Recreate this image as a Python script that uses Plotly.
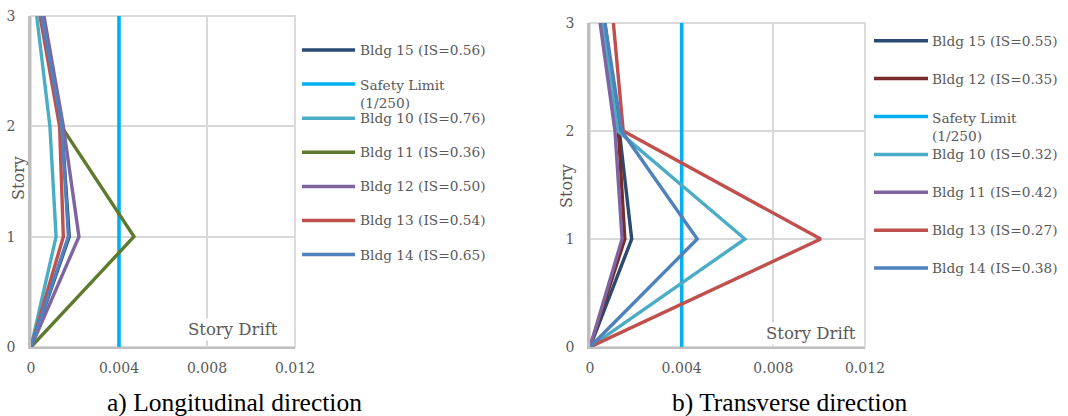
import plotly.graph_objects as go

W, H = 1068, 416

stories = [0, 1, 2, 3]
x_ticks = [0, 0.004, 0.008, 0.012]
x_tick_text = ["0", "0.004", "0.008", "0.012"]
y_ticks = [0, 1, 2, 3]
safety_limit = 0.004  # 1/250

# a) Longitudinal direction
long_names = ["Bldg 15 (IS=0.56)", "Safety Limit<br>(1/250)", "Bldg 10 (IS=0.76)",
              "Bldg 11 (IS=0.36)", "Bldg 12 (IS=0.50)", "Bldg 13 (IS=0.54)", "Bldg 14 (IS=0.65)"]
long_colors = ["#2B4A72", "#00B0F0", "#4BACC6", "#5E7A2C", "#8064A2", "#C0504D", "#4F81BD"]
long_b15 = [0, 0.00174, 0.00140, 0.00048]
long_b10 = [0, 0.00114, 0.00086, 0.00026]
long_b11 = [0, 0.00468, 0.00138, 0.00050]
long_b12 = [0, 0.00218, 0.00147, 0.00059]
long_b13 = [0, 0.00147, 0.00130, 0.00041]
long_b14 = [0, 0.00170, 0.00140, 0.00049]

# b) Transverse direction
trans_names = ["Bldg 15 (IS=0.55)", "Bldg 12 (IS=0.35)", "Safety Limit<br>(1/250)", "Bldg 10 (IS=0.32)",
               "Bldg 11 (IS=0.42)", "Bldg 13 (IS=0.27)", "Bldg 14 (IS=0.38)"]
trans_colors = ["#2B4A72", "#772C2A", "#00B0F0", "#4BACC6", "#8064A2", "#C0504D", "#4F81BD"]
trans_b15 = [0, 0.00182, 0.00128, 0.00065]
trans_b12 = [0, 0.00152, 0.00124, 0.00050]
trans_b10 = [0, 0.00676, 0.00122, 0.00056]
trans_b11 = [0, 0.00140, 0.00109, 0.00044]
trans_b13 = [0, 0.01007, 0.00145, 0.00102]
trans_b14 = [0, 0.00468, 0.00138, 0.00065]

long_series = [long_b15, None, long_b10, long_b11, long_b12, long_b13, long_b14]
trans_series = [trans_b15, trans_b12, None, trans_b10, trans_b11, trans_b13, trans_b14]

SERIF = "'DejaVu Serif', serif"
CAPTION = "'Liberation Serif', 'Times New Roman', serif"
GRAY = "#595959"

def px(x):
    return x / W

def py(y):
    return 1 - y / H

fig = go.Figure()

def add_panel(series, names, colors, xa, ya):
    for s, n, c in zip(series, names, colors):
        if s is None:
            fig.add_trace(go.Scatter(x=[safety_limit, safety_limit], y=[stories[0], stories[-1]],
                                     mode="lines", line=dict(color=c, width=3.6),
                                     name=n, showlegend=False, xaxis=xa, yaxis=ya))
        else:
            fig.add_trace(go.Scatter(x=s, y=stories, mode="lines",
                                     line=dict(color=c, width=3.4),
                                     name=n, showlegend=False, xaxis=xa, yaxis=ya))

add_panel(long_series, long_names, long_colors, "x", "y")
add_panel(trans_series, trans_names, trans_colors, "x2", "y2")

# plot areas (pixels)
L = dict(x0=31, x1=295, y0=16, y1=347)
R = dict(x0=590, x1=865, y0=23, y1=347)

def xaxis(dom, anchor):
    return dict(domain=[px(dom["x0"]), px(dom["x1"])], anchor=anchor, automargin=False,
                range=[0, 0.012], tickvals=x_ticks, ticktext=x_tick_text,
                showgrid=True, gridcolor="#D9D9D9", gridwidth=1.8,
                showline=True, linecolor="#BFBFBF", linewidth=2,
                zeroline=False, ticks="", ticklabelstandoff=7,
                tickfont=dict(family=SERIF, size=14, color=GRAY), fixedrange=True)

def yaxis(dom, anchor):
    return dict(domain=[py(dom["y1"]), py(dom["y0"])], anchor=anchor, automargin=False,
                range=[0, 3], tickvals=y_ticks,
                showgrid=True, gridcolor="#D9D9D9", gridwidth=1.8,
                showline=True, linecolor="#BFBFBF", linewidth=2.5,
                zeroline=False, ticks="", ticklabelstandoff=10,
                tickfont=dict(family=SERIF, size=14, color=GRAY), fixedrange=True)

fig.update_layout(
    width=W, height=H, margin=dict(l=0, r=0, t=0, b=0),
    paper_bgcolor="white", plot_bgcolor="white", showlegend=False,
    xaxis=xaxis(L, "y"), yaxis=yaxis(L, "x"),
    xaxis2=xaxis(R, "y2"), yaxis2=yaxis(R, "x2"),
)

# borders on top / right
for d in (L, R):
    fig.add_shape(type="rect", xref="paper", yref="paper",
                  x0=px(d["x0"]), x1=px(d["x1"]), y0=py(d["y1"]), y1=py(d["y0"]),
                  line=dict(color="#D9D9D9", width=1.8), layer="below")

# axis titles "Story"
for (tx, ty) in ((18, 178), (566, 186)):
    fig.add_annotation(text="Story", xref="paper", yref="paper", x=px(tx), y=py(ty),
                       xanchor="center", yanchor="middle", textangle=-90, showarrow=False,
                       font=dict(family=SERIF, size=16, color=GRAY))

# "Story Drift" labels
fig.add_annotation(text="Story Drift", xref="paper", yref="paper", x=px(280), y=py(329),
                   xanchor="right", yanchor="middle", showarrow=False, bgcolor="white",
                   font=dict(family=SERIF, size=16.5, color=GRAY))
fig.add_annotation(text="Story Drift", xref="paper", yref="paper", x=px(858), y=py(333),
                   xanchor="right", yanchor="middle", showarrow=False, bgcolor="white",
                   font=dict(family=SERIF, size=16.5, color=GRAY))

# manual legends
def add_legend(names, colors, lx0, lx1, tx, y_start, step):
    for i, (n, c) in enumerate(zip(names, colors)):
        yy = y_start + i * step
        fig.add_shape(type="line", xref="paper", yref="paper",
                      x0=px(lx0), x1=px(lx1), y0=py(yy), y1=py(yy),
                      line=dict(color=c, width=3.5))
        multi = "<br>" in n
        fig.add_annotation(text=n, xref="paper", yref="paper", x=px(tx),
                           y=py(yy - 9) if multi else py(yy),
                           xanchor="left", yanchor="top" if multi else "middle",
                           align="left", showarrow=False,
                           font=dict(family=SERIF, size=13.7, color=GRAY))

add_legend(long_names, long_colors, 302, 355, 358, 50, 34.1)
add_legend(trans_names, trans_colors, 874, 928, 930, 40.7, 37.9)

# captions
fig.add_annotation(text="a) Longitudinal direction", xref="paper", yref="paper",
                   x=px(234), y=py(402), xanchor="center", yanchor="middle", showarrow=False,
                   font=dict(family=CAPTION, size=25.5, color="black"))
fig.add_annotation(text="b) Transverse direction", xref="paper", yref="paper",
                   x=px(789), y=py(402), xanchor="center", yanchor="middle", showarrow=False,
                   font=dict(family=CAPTION, size=25.5, color="black"))

fig.write_html("out.html", config={"displayModeBar": False},
               post_script="document.body.style.margin='0px';document.body.style.overflow='hidden';")
